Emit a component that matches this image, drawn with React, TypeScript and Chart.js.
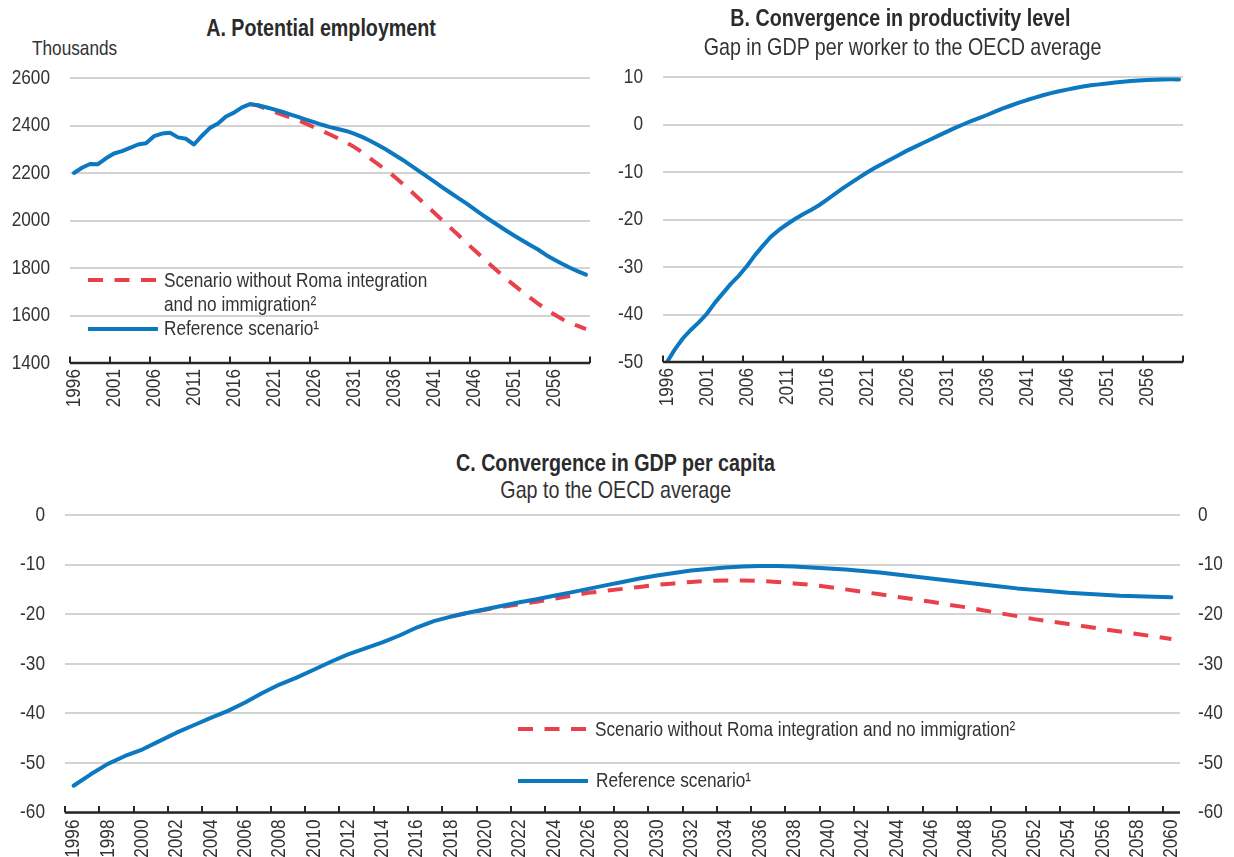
import React, { useEffect, useRef } from 'react';
import { Chart, registerables } from 'chart.js';

Chart.register(...registerables);

// ---------------- DATA ----------------
const years: string[] = [
  '1996','1997','1998','1999','2000','2001','2002','2003','2004','2005',
  '2006','2007','2008','2009','2010','2011','2012','2013','2014','2015',
  '2016','2017','2018','2019','2020','2021','2022','2023','2024','2025',
  '2026','2027','2028','2029','2030','2031','2032','2033','2034','2035',
  '2036','2037','2038','2039','2040','2041','2042','2043','2044','2045',
  '2046','2047','2048','2049','2050','2051','2052','2053','2054','2055',
  '2056','2057','2058','2059','2060',
];

// Panel A: potential employment, thousands (1996-2060)
const employmentReference: number[] = [
  2200, 2222, 2238, 2237, 2262, 2282, 2292, 2306, 2320, 2325,
  2355, 2366, 2369, 2350, 2344, 2320, 2357, 2390, 2408, 2438,
  2454, 2476, 2490, 2485, 2477, 2468, 2458, 2447, 2436, 2425,
  2414, 2403, 2393, 2385, 2377, 2366, 2352, 2336, 2318, 2299,
  2278, 2257, 2234, 2211, 2188, 2165, 2141, 2118, 2095, 2073,
  2049, 2025, 2002, 1980, 1958, 1937, 1917, 1897, 1878, 1855,
  1836, 1818, 1801, 1786, 1772,
];
// Panel A: scenario without Roma integration and no immigration (2018-2060)
const employmentNoRoma: number[] = [
  2490, 2484, 2470, 2458, 2446, 2434, 2422, 2408, 2393, 2378,
  2362, 2346, 2329, 2310, 2288, 2262, 2237, 2212, 2186, 2157,
  2127, 2096, 2065, 2034, 2002, 1971, 1940, 1908, 1877, 1846,
  1815, 1785, 1756, 1728, 1701, 1675, 1650, 1627, 1605, 1585,
  1568, 1556, 1543,
];

// Panel B: gap in GDP per worker to the OECD average (1996-2060)
const productivityGap: number[] = [
  -50, -47.3, -45, -43.2, -41.6, -39.8, -37.5, -35.5, -33.5, -31.8,
  -29.8, -27.5, -25.5, -23.6, -22.2, -21.0, -19.9, -18.9, -18.0, -17.0,
  -15.8, -14.6, -13.4, -12.3, -11.2, -10.1, -9.1, -8.2, -7.3, -6.4,
  -5.5, -4.7, -3.9, -3.1, -2.3, -1.5, -0.7, 0.0, 0.7, 1.35,
  2.0, 2.7, 3.4, 4.0, 4.6, 5.15, 5.65, 6.15, 6.6, 7.0,
  7.35, 7.7, 8.0, 8.25, 8.45, 8.65, 8.85, 9.0, 9.15, 9.25,
  9.35, 9.42, 9.47, 9.5, 9.5,
];

// Panel C: GDP per capita gap to the OECD average (1996-2060)
const gdpGapReference: number[] = [
  -54.6, -52.3, -50.2, -48.6, -47.3, -45.6, -43.9, -42.4, -40.9, -39.5,
  -37.8, -35.9, -34.2, -32.8, -31.2, -29.6, -28.1, -26.9, -25.7, -24.3,
  -22.7, -21.4, -20.5, -19.7, -19.0, -18.3, -17.6, -17.0, -16.3, -15.6,
  -14.9, -14.2, -13.5, -12.8, -12.2, -11.7, -11.2, -10.9, -10.6, -10.4,
  -10.3, -10.3, -10.4, -10.6, -10.8, -11.0, -11.3, -11.6, -12.0, -12.4,
  -12.8, -13.2, -13.6, -14.0, -14.4, -14.8, -15.1, -15.4, -15.7, -15.9,
  -16.1, -16.3, -16.4, -16.5, -16.6,
];
// Panel C: scenario without Roma integration and no immigration (2018-2060)
const gdpGapNoRoma: number[] = [
  -20.5, -19.7, -19.1, -18.5, -18.0, -17.5, -16.9, -16.3, -15.7, -15.3,
  -14.9, -14.5, -14.1, -13.8, -13.5, -13.3, -13.2, -13.2, -13.3, -13.5,
  -13.8, -14.1, -14.5, -15.0, -15.5, -16.0, -16.5, -17.0, -17.5, -18.1,
  -18.6, -19.2, -19.8, -20.4, -21.0, -21.5, -22.0, -22.5, -23.0, -23.5,
  -24.0, -24.5, -25.0,
];
const scenarioStartYear = '2018';

const legendNoRoma = 'Scenario without Roma integration and no immigration²';
const legendNoRomaLine1 = 'Scenario without Roma integration';
const legendNoRomaLine2 = 'and no immigration²';
const legendReference = 'Reference scenario¹';

// ---------------- STYLE ----------------
const FONT = '"Liberation Sans Narrow", "Arial Narrow", "Liberation Sans", Arial, sans-serif';
const SX = 0.82; // horizontal condensing (narrow typeface look)
const TEXT = '#333333';
const TITLE = '#2b2b2b';
const BLUE = '#0b78bf';
const RED = '#e8414b';
const GRID = '#d3d3d3';
const AXIS = '#262626';
const DASH = [15, 11.5];
const TICK_SIZE = 21;

function padFrom(start: string, values: number[]): (number | null)[] {
  const idx = years.indexOf(start);
  return years.map((_, i) => (i < idx ? null : values[i - idx]));
}

function drawCondensed(ctx: CanvasRenderingContext2D, text: string, x: number, y: number, align: CanvasTextAlign) {
  ctx.save();
  ctx.translate(x, y);
  ctx.scale(SX, 1);
  ctx.textAlign = align;
  ctx.textBaseline = 'middle';
  ctx.fillText(text, 0, 0);
  ctx.restore();
}

function axesPlugin(step: number, xPad: number, rightLabels: boolean) {
  return {
    id: 'customAxes',
    afterDatasetsDraw(chart: any) {
      const { ctx, chartArea } = chart;
      const xs = chart.scales.x;
      const ys = chart.scales.y;
      const n = chart.data.labels.length;
      ctx.save();
      // axis line + inward tick marks at category boundaries
      ctx.strokeStyle = AXIS;
      ctx.lineWidth = 2.5;
      ctx.beginPath();
      ctx.moveTo(chartArea.left, chartArea.bottom);
      ctx.lineTo(chartArea.right, chartArea.bottom);
      ctx.stroke();
      ctx.lineWidth = 2;
      ctx.beginPath();
      for (let i = 0; i <= n; i++) {
        if (i % step !== 0) continue;
        const x = Math.round(xs.getPixelForValue(i - 0.5));
        ctx.moveTo(x, chartArea.bottom);
        ctx.lineTo(x, chartArea.bottom - 6.5);
      }
      ctx.stroke();

      // tick labels (condensed)
      ctx.fillStyle = TEXT;
      ctx.font = `${TICK_SIZE}px ${FONT}`;
      ys.ticks.forEach((t: any) => {
        const y = ys.getPixelForValue(t.value);
        drawCondensed(ctx, String(t.value), chartArea.left - 20, y, 'right');
        if (rightLabels) drawCondensed(ctx, String(t.value), chartArea.right + 18, y, 'left');
      });
      chart.data.labels.forEach((lab: string, i: number) => {
        if (i % step !== 0) return;
        const x = xs.getPixelForValue(i);
        ctx.save();
        ctx.translate(x, chartArea.bottom + xPad);
        ctx.rotate(-Math.PI / 2);
        ctx.scale(SX, 1);
        ctx.textAlign = 'right';
        ctx.textBaseline = 'middle';
        ctx.fillText(lab, 0, 0);
        ctx.restore();
      });
      ctx.restore();
    },
  };
}

interface PanelProps {
  left: number; top: number; width: number; height: number;
  datasets: any[];
  yMin: number; yMax: number; yStep: number;
  labelStep: number;
  padLeft: number; padRight: number; padTop: number; padBottom: number;
  xLabelPad: number;
  rightLabels?: boolean;
}

function Panel(p: PanelProps) {
  const ref = useRef<HTMLCanvasElement>(null);
  useEffect(() => {
    const chart = new Chart(ref.current as HTMLCanvasElement, {
      type: 'line',
      data: { labels: years, datasets: p.datasets },
      options: {
        animation: false,
        responsive: false,
        devicePixelRatio: 1,
        layout: { padding: { top: p.padTop, right: p.padRight, left: p.padLeft, bottom: p.padBottom } },
        plugins: { legend: { display: false }, tooltip: { enabled: false }, title: { display: false } },
        elements: { point: { radius: 0 }, line: { tension: 0 } },
        scales: {
          x: {
            type: 'category',
            offset: true,
            grid: { display: false, drawTicks: false },
            border: { display: false },
            ticks: { display: false, autoSkip: false },
            afterFit: (s: any) => { s.height = 0; },
          },
          y: {
            position: 'left',
            min: p.yMin,
            max: p.yMax,
            grid: { color: GRID, lineWidth: 2, drawTicks: false },
            border: { display: false },
            ticks: { display: false, stepSize: p.yStep },
            afterFit: (s: any) => { s.width = 0; },
          },
        },
      },
      plugins: [axesPlugin(p.labelStep, p.xLabelPad, !!p.rightLabels)],
    } as any);
    return () => chart.destroy();
  }, []);
  return (
    <canvas
      ref={ref}
      width={p.width}
      height={p.height}
      style={{ position: 'absolute', left: p.left, top: p.top, width: p.width, height: p.height }}
    />
  );
}

function Text(props: { x: number; baseline: number; size: number; bold?: boolean; align?: 'left' | 'center'; children: React.ReactNode }) {
  const { x, baseline, size, bold, align = 'left', children } = props;
  const top = baseline - 0.8465 * size;
  const style: React.CSSProperties = {
    position: 'absolute',
    top,
    fontFamily: FONT,
    fontSize: size,
    lineHeight: `${size}px`,
    fontWeight: bold ? 700 : 400,
    color: bold ? TITLE : TEXT,
    whiteSpace: 'nowrap',
  };
  if (align === 'center') {
    style.left = x - 400;
    style.width = 800;
    style.textAlign = 'center';
  } else {
    style.left = x;
  }
  return (
    <div style={style}>
      <span style={{ display: 'inline-block', transform: `scaleX(${SX})`, transformOrigin: align === 'center' ? '50% 50%' : '0 50%' }}>
        {children}
      </span>
    </div>
  );
}

function LegendLine({ x, y, color, dashed }: { x: number; y: number; color: string; dashed?: boolean }) {
  return (
    <svg width={72} height={10} style={{ position: 'absolute', left: x, top: y - 5 }}>
      <line x1={0} y1={5} x2={70} y2={5} stroke={color} strokeWidth={4}
        strokeDasharray={dashed ? DASH.join(' ') : undefined} />
    </svg>
  );
}

export default function App() {
  const blue = (data: (number | null)[], label: string) => ({
    label, data, borderColor: BLUE, borderWidth: 4, borderJoinStyle: 'round', borderCapStyle: 'round', fill: false,
  });
  const red = (data: (number | null)[], label: string) => ({
    label, data, borderColor: RED, borderWidth: 4, borderDash: DASH, borderCapStyle: 'butt', fill: false,
  });

  return (
    <div style={{ position: 'absolute', left: 0, top: 0, width: 1234, height: 857, background: '#fff', overflow: 'hidden' }}>
      {/* Panel A */}
      <Text x={321} baseline={36.5} size={24} bold align="center">A. Potential employment</Text>
      <Text x={32} baseline={55} size={21}>Thousands</Text>
      <Panel
        left={0} top={0} width={610} height={440}
        datasets={[blue(employmentReference, legendReference), red(padFrom(scenarioStartYear, employmentNoRoma), legendNoRoma)]}
        yMin={1400} yMax={2600} yStep={200} labelStep={5}
        padLeft={70} padRight={20} padTop={78} padBottom={77} xLabelPad={6}
      />
      <LegendLine x={88} y={280} color={RED} dashed />
      <Text x={164} baseline={287} size={21}>{legendNoRomaLine1}</Text>
      <Text x={164} baseline={311} size={21}>{legendNoRomaLine2}</Text>
      <LegendLine x={88} y={329} color={BLUE} />
      <Text x={164} baseline={335} size={21}>{legendReference}</Text>

      {/* Panel B */}
      <Text x={900} baseline={26} size={24} bold align="center">B. Convergence in productivity level</Text>
      <Text x={903} baseline={55} size={24} align="center">Gap in GDP per worker to the OECD average</Text>
      <Panel
        left={600} top={0} width={634} height={440}
        datasets={[blue(productivityGap, 'Gap in GDP per worker')]}
        yMin={-50} yMax={10} yStep={10} labelStep={5}
        padLeft={63} padRight={51} padTop={77} padBottom={78} xLabelPad={6}
      />

      {/* Panel C */}
      <Text x={616} baseline={471.5} size={24} bold align="center">C. Convergence in GDP per capita</Text>
      <Text x={616} baseline={498} size={24} align="center">Gap to the OECD average</Text>
      <Panel
        left={0} top={430} width={1234} height={427}
        datasets={[blue(gdpGapReference, legendReference), red(padFrom(scenarioStartYear, gdpGapNoRoma), legendNoRoma)]}
        yMin={-60} yMax={0} yStep={10} labelStep={2}
        padLeft={65} padRight={54} padTop={85} padBottom={44.5} xLabelPad={7} rightLabels
      />
      <LegendLine x={518} y={729} color={RED} dashed />
      <Text x={595} baseline={736} size={21}>{legendNoRoma}</Text>
      <LegendLine x={518} y={781} color={BLUE} />
      <Text x={596} baseline={787} size={21}>{legendReference}</Text>
    </div>
  );
}
